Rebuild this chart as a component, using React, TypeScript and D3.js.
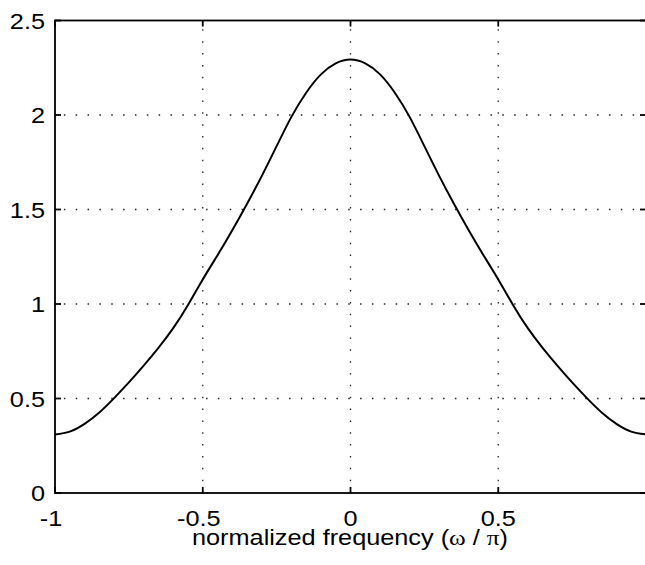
import React from 'react'
import * as d3 from 'd3'

// normalized frequency (omega / pi) and magnitude
const freq = [
  -1, -0.95, -0.9, -0.85, -0.8, -0.75, -0.7, -0.65, -0.6, -0.55, -0.5,
  -0.45, -0.4, -0.35, -0.3, -0.25, -0.2, -0.15, -0.1, -0.05, 0,
  0.05, 0.1, 0.15, 0.2, 0.25, 0.3, 0.35, 0.4, 0.45, 0.5,
  0.55, 0.6, 0.65, 0.7, 0.75, 0.8, 0.85, 0.9, 0.95, 1,
]
const magnitude = [
  0.31, 0.325, 0.366, 0.426, 0.502, 0.585, 0.674, 0.768, 0.872, 0.995, 1.13,
  1.258, 1.39, 1.53, 1.678, 1.835, 1.99, 2.118, 2.215, 2.273, 2.293,
  2.273, 2.215, 2.118, 1.99, 1.835, 1.678, 1.53, 1.39, 1.258, 1.13,
  0.995, 0.872, 0.768, 0.674, 0.585, 0.502, 0.426, 0.366, 0.325, 0.31,
]
const xTicks = [-1, -0.5, 0, 0.5, 1]
const xTickLabels = ['-1', '-0.5', '0', '0.5', '1']
const yTicks = [0, 0.5, 1, 1.5, 2, 2.5]
const yTickLabels = ['0', '0.5', '1', '1.5', '2', '2.5']

const W = 645
const H = 565
const left = 55
const right = 646
const top = 20.5
const bottom = 493

const font = '"Liberation Sans", Arial, Helvetica, sans-serif'
const serif = '"Liberation Serif", "Times New Roman", serif'
const sx = 1.15

export default function App() {
  const x = d3.scaleLinear().domain([-1, 1]).range([left, right])
  const y = d3.scaleLinear().domain([0, 2.5]).range([bottom, top])

  const pts: [number, number][] = freq.map((f, i) => [f, magnitude[i]])
  const line = d3
    .line<[number, number]>()
    .x((d) => x(d[0]))
    .y((d) => y(d[1]))
    .curve(d3.curveNatural)

  const dots = '1.5 10.35'

  // minus labels sit a little left of their tick, the last one runs off the edge
  const labelShift = (t: number) => (t < 0 ? -4 : t === 1 ? 6 : 0)

  return (
    <svg
      width={W}
      height={H}
      style={{ position: 'absolute', left: 0, top: 0, background: '#fff' }}
    >
      <rect x={0} y={0} width={W} height={H} fill="#fff" />

      {/* dotted grid */}
      <g stroke="#222" strokeWidth={1.3} strokeDasharray={dots} fill="none">
        {xTicks
          .filter((t) => t > -1 && t < 1)
          .map((t) => (
            <line key={'gx' + t} x1={x(t)} x2={x(t)} y1={bottom} y2={top} />
          ))}
        {yTicks
          .filter((t) => t > 0 && t < 2.5)
          .map((t) => (
            <line key={'gy' + t} x1={right} x2={left} y1={y(t)} y2={y(t)} />
          ))}
      </g>

      {/* curve */}
      <path d={line(pts) || ''} fill="none" stroke="#000" strokeWidth={2} />

      {/* box and ticks */}
      <g stroke="#000" strokeWidth={1.8} fill="none">
        <rect x={left} y={top} width={right - left} height={bottom - top} />
        {xTicks.map((t) => (
          <g key={'tx' + t}>
            <line x1={x(t)} x2={x(t)} y1={bottom} y2={bottom - 6} />
            <line x1={x(t)} x2={x(t)} y1={top} y2={top + 6} />
          </g>
        ))}
        {yTicks.map((t) => (
          <g key={'ty' + t}>
            <line x1={left} x2={left + 6} y1={y(t)} y2={y(t)} />
            <line x1={right} x2={right - 6} y1={y(t)} y2={y(t)} />
          </g>
        ))}
      </g>

      {/* tick labels */}
      <g fontFamily={font} fontSize={22} fill="#000">
        {yTicks.map((t, i) => (
          <text
            key={'ly' + t}
            textAnchor="end"
            transform={`translate(45, ${y(t) + 8}) scale(${sx}, 1)`}
          >
            {yTickLabels[i]}
          </text>
        ))}
        {xTicks.map((t, i) => (
          <text
            key={'lx' + t}
            textAnchor="middle"
            transform={`translate(${x(t) + labelShift(t)}, 526) scale(${sx}, 1)`}
          >
            {xTickLabels[i]}
          </text>
        ))}
        <text textAnchor="middle" transform={`translate(350, 545) scale(${sx}, 1)`}>
          normalized frequency (<tspan fontFamily={serif}>ω</tspan> /{' '}
          <tspan fontFamily={serif}>π</tspan>)
        </text>
      </g>
    </svg>
  )
}
